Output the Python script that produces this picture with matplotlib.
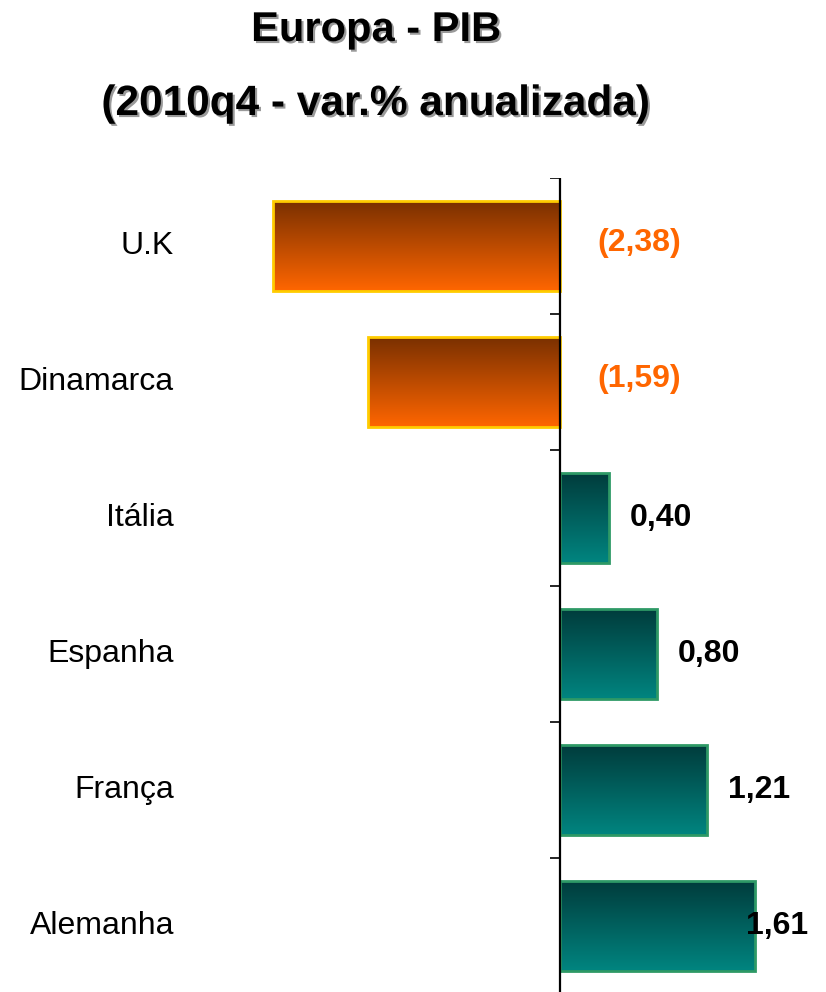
import numpy as np
import matplotlib
matplotlib.use("Agg")
import matplotlib.pyplot as plt
import matplotlib.patheffects as pe
from matplotlib.colors import LinearSegmentedColormap

plt.rcParams['font.family'] = ['Liberation Sans', 'DejaVu Sans']

countries = ["U.K", "Dinamarca", "Itália", "Espanha", "França", "Alemanha"]
values = [-2.38, -1.59, 0.40, 0.80, 1.21, 1.61]
value_labels = ["(2,38)", "(1,59)", "0,40", "0,80", "1,21", "1,61"]
title_line1 = "Europa - PIB"
title_line2 = "(2010q4 - var.% anualizada)"

W, H = 826, 992
fig = plt.figure(figsize=(W / 100, H / 100), dpi=100)

px_per_unit = 120.8
zero_px = 560.5
ax_left_px, ax_right_px = 10, 816
ax_top_px, ax_bot_px = 178, 992
ax = fig.add_axes([ax_left_px / W, 1 - ax_bot_px / H,
                   (ax_right_px - ax_left_px) / W, (ax_bot_px - ax_top_px) / H])
xmin = -(zero_px - ax_left_px) / px_per_unit
xmax = (ax_right_px - zero_px) / px_per_unit
n = len(countries)
ncat = (ax_bot_px - ax_top_px) / 136.0

neg_cmap = LinearSegmentedColormap.from_list("neg", ["#7a3000", "#ff6600"])
pos_cmap = LinearSegmentedColormap.from_list("pos", ["#003c3c", "#008580"])

y = np.arange(n)
bars = ax.barh(y, values, height=0.66, color="none", zorder=2)
grad = np.linspace(0, 1, 256).reshape(-1, 1)
for b, v in zip(bars, values):
    x0, y0 = b.get_x(), b.get_y()
    w, h = b.get_width(), b.get_height()
    cmap = neg_cmap if v < 0 else pos_cmap
    im = ax.imshow(grad, cmap=cmap, aspect="auto",
                   extent=(x0, x0 + w, y0 + h, y0), zorder=2,
                   interpolation="bilinear")
    im.set_clip_path(b)
    ec = "#ffcc00" if v < 0 else "#2e9966"
    rect = plt.Rectangle((x0, y0), w, h, fill=False, edgecolor=ec,
                         linewidth=2.0, zorder=3)
    ax.add_patch(rect)

ax.set_xlim(xmin, xmax)
ax.set_ylim(-0.5 + ncat, -0.5)

# axis spine at zero
ax.axvline(0, color="black", linewidth=1.6, zorder=4)
for s in ax.spines.values():
    s.set_visible(False)
ax.set_xticks([])
ax.set_yticks([])
for t in np.arange(-0.5, n - 1, 1.0):
    ax.plot([-10.5 / px_per_unit, 0], [t, t], color="black", linewidth=1.2,
            zorder=4, solid_capstyle="butt")

# category labels
label_x = (174 - zero_px) / px_per_unit
for yi, c in zip(y, countries):
    ax.text(label_x, yi, c, ha="right", va="center", fontsize=23, color="black")

# value labels
right_limit = (808 - zero_px) / px_per_unit
for yi, v, lab in zip(y, values, value_labels):
    if v < 0:
        ax.text(37 / px_per_unit, yi - 0.02, lab, ha="left", va="center", fontsize=23,
                fontweight="bold", color="#ff6600", zorder=5)
    else:
        x = v + 21 / px_per_unit
        if x + 60 / px_per_unit > right_limit:
            ax.text(right_limit, yi, lab, ha="right", va="center", fontsize=23,
                    fontweight="bold", color="black", zorder=5)
        else:
            ax.text(x, yi, lab, ha="left", va="center", fontsize=23,
                    fontweight="bold", color="black", zorder=5)

shadow = [pe.SimplePatchShadow(offset=(1.5, -1.5), shadow_rgbFace="#9a9a9a", alpha=1.0),
          pe.Normal()]
fig.text(376 / W, 1 - 30 / H, title_line1, ha="center", va="center",
         fontsize=30, fontweight="bold", path_effects=shadow)
fig.text(376 / W, 1 - 104 / H, title_line2, ha="center", va="center",
         fontsize=30.5, fontweight="bold", path_effects=shadow)

fig.savefig("out.png", dpi=100)
